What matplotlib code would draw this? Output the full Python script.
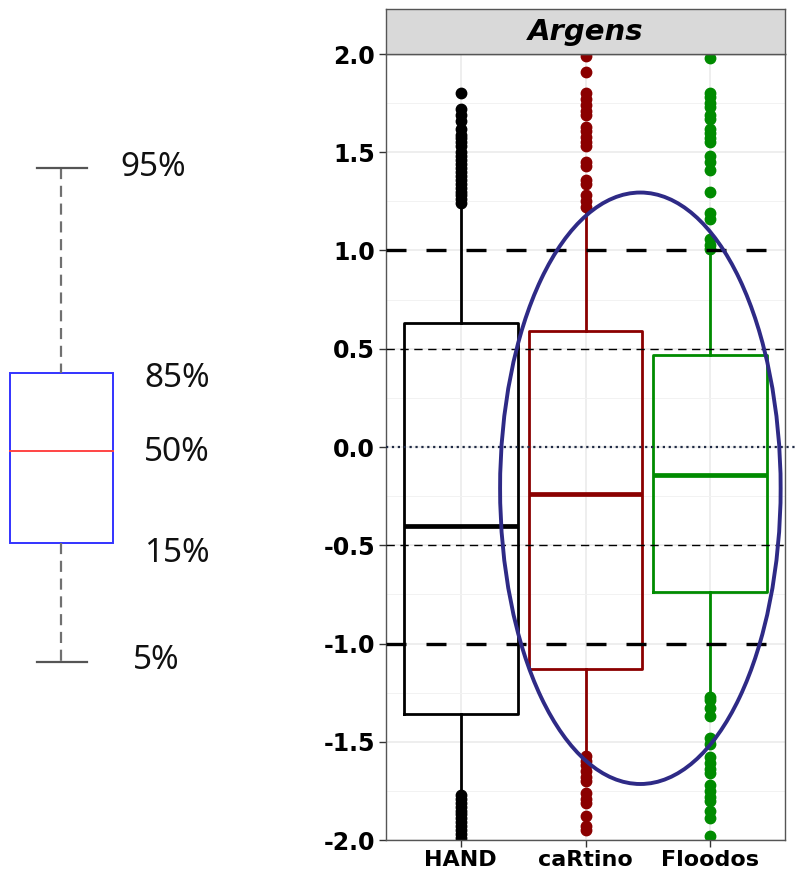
import matplotlib
matplotlib.use("Agg")
from matplotlib import pyplot as plt
from matplotlib.patches import Ellipse, Rectangle

# data
models = ["HAND", "caRtino", "Floodos"]
colors = ["#000000", "#8B0000", "#008B00"]
q1 = [-1.36, -1.13, -0.74]
med = [-0.40, -0.24, -0.14]
q3 = [0.63, 0.59, 0.47]
whis_lo = [-1.76, -1.56, -1.24]
whis_hi = [1.23, 1.20, 1.02]
fliers_hand = [1.80, 1.72, 1.69, 1.66, 1.62, 1.59, 1.57, 1.55, 1.53, 1.50, 1.48,
               1.46, 1.44, 1.42, 1.40, 1.38, 1.36, 1.34, 1.32, 1.30, 1.28, 1.26, 1.24,
               -1.77, -1.79, -1.81, -1.83, -1.85, -1.87, -1.89, -1.91, -1.93, -1.95,
               -1.97, -1.99]
fliers_cartino = [1.99, 1.91, 1.80, 1.77, 1.74, 1.71, 1.69, 1.63, 1.61, 1.58, 1.55,
                  1.53, 1.45, 1.43, 1.36, 1.34, 1.28, 1.25, 1.22,
                  -1.57, -1.60, -1.62, -1.65, -1.68, -1.70, -1.76, -1.79, -1.81,
                  -1.88, -1.93, -1.95]
fliers_floodos = [1.98, 1.80, 1.78, 1.75, 1.73, 1.69, 1.67, 1.62, 1.60, 1.57, 1.55,
                  1.48, 1.45, 1.41, 1.30, 1.19, 1.16, 1.06, 1.03, 1.01,
                  -1.27, -1.29, -1.33, -1.37, -1.48, -1.51, -1.58, -1.61, -1.64,
                  -1.66, -1.72, -1.75, -1.78, -1.80, -1.85, -1.89, -1.98]
fliers = [fliers_hand, fliers_cartino, fliers_floodos]
ref_thick = [1.0, -1.0]
ref_thin = [0.5, -0.5]
yticks = [-2.0, -1.5, -1.0, -0.5, 0.0, 0.5, 1.0, 1.5, 2.0]
key_labels = ["95%", "85%", "50%", "15%", "5%"]

W, H = 798, 872
fig = plt.figure(figsize=(W / 100, H / 100), dpi=100)

# ---- left key drawn in pixel coords
kx = fig.add_axes([0, 0, 1, 1])
kx.set_xlim(0, W)
kx.set_ylim(H, 0)
kx.axis("off")
kx.add_patch(Rectangle((10, 373), 103, 170, fill=False, ec="#3333FF", lw=1.4))
kx.plot([10, 113], [451, 451], color="#FF4444", lw=1.4)
kx.plot([61, 61], [168, 373], color="#707070", lw=1.6, ls=(0, (5, 3)))
kx.plot([61, 61], [543, 662], color="#707070", lw=1.6, ls=(0, (5, 3)))
kx.plot([37, 87], [168, 168], color="#555555", lw=1.6)
kx.plot([37, 87], [662, 662], color="#555555", lw=1.6)
for lab, x, y in zip(key_labels, [120, 144, 144, 144, 133], [168, 378, 452, 553, 660]):
    kx.text(x, y, lab, fontsize=24, family="Noto Sans", va="center", ha="left",
            color="#111111")

# ---- main panel
L, R, T, B = 386, 785, 54, 840
ax = fig.add_axes([L / W, (H - B) / H, (R - L) / W, (B - T) / H])

stats = []
for i in range(3):
    stats.append({"med": med[i], "q1": q1[i], "q3": q3[i],
                  "whislo": whis_lo[i], "whishi": whis_hi[i],
                  "fliers": fliers[i]})
for i in range(3):
    c = colors[i]
    ax.bxp([stats[i]], positions=[i + 1], widths=0.91, showcaps=False,
           manage_ticks=False,
           boxprops=dict(color=c, lw=2.0),
           whiskerprops=dict(color=c, lw=2.0),
           medianprops=dict(color=c, lw=3.4),
           flierprops=dict(marker="o", markerfacecolor=c, markeredgecolor=c,
                           markersize=7.5, ls="none"))

ax.set_xlim(0.4, 3.6)
ax.set_ylim(-2.0, 2.0)
ax.set_yticks(yticks)
ax.set_yticks([-1.75, -1.25, -0.75, -0.25, 0.25, 0.75, 1.25, 1.75], minor=True)
ax.set_xticks([1, 2, 3])
ax.grid(True, which="major", color="#EBEBEB", lw=1.2, zorder=0)
ax.grid(True, which="minor", axis="y", color="#F2F2F2", lw=0.7, zorder=0)
ax.set_axisbelow(True)

for v in ref_thick:
    ax.axhline(v, color="black", lw=2.4, ls=(0, (6, 6)), zorder=3)
for v in ref_thin:
    ax.axhline(v, color="black", lw=1.0, ls=(0, (6, 4)), zorder=3)
ax.plot([0.4, 3.72], [0, 0], color="#1F2A44", lw=1.6, ls=":", clip_on=False, zorder=3)

ax.add_patch(Ellipse((2.44, -0.21), 2.25, 3.01, fill=False, ec="#2E2A86", lw=2.8, zorder=4))

for s in ax.spines.values():
    s.set_color("#555555")
    s.set_linewidth(1.0)
ax.tick_params(axis="both", which="major", length=5, color="#333333", width=1.0)
ax.tick_params(axis="both", which="minor", length=0)
ax.set_yticklabels(["%.1f" % v for v in yticks], fontsize=17, fontweight="bold",
                   family="DejaVu Sans")
ax.set_xticklabels(models, fontsize=16, fontweight="bold", family="DejaVu Sans")
ax.tick_params(axis="y", pad=3)
ax.tick_params(axis="x", pad=2)

# ---- facet strip
sx = fig.add_axes([L / W, (H - T) / H, (R - L) / W, (T - 9) / H])
sx.set_facecolor("#D9D9D9")
sx.set_xticks([])
sx.set_yticks([])
for s in sx.spines.values():
    s.set_color("#555555")
    s.set_linewidth(1.0)
sx.text(0.5, 0.5, "Argens", fontsize=21, fontweight="bold", style="italic",
        family="DejaVu Sans", ha="center", va="center", transform=sx.transAxes)

fig.savefig("out.png", dpi=100)
